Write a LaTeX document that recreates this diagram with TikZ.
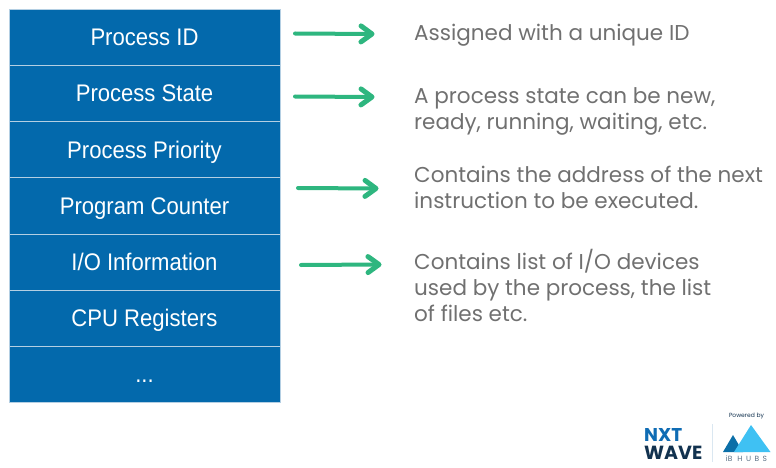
\documentclass[tikz,border=0pt]{standalone}
\usepackage{fontspec}
\usetikzlibrary{positioning,arrows.meta}
\setmainfont{Poppins}
\newfontfamily\boxfont[FakeStretch=0.92]{Liberation Sans}
\newfontfamily\logofont{Poppins}
\definecolor{pcbblue}{HTML}{0369AC}
\definecolor{pcbline}{HTML}{B4CFE3}
\definecolor{notegray}{HTML}{707070}
\definecolor{arrowgreen}{HTML}{2EB67F}
\definecolor{nxtblue}{HTML}{0F6CB4}
\definecolor{wavenavy}{HTML}{12324F}
\definecolor{hubsdark}{HTML}{0B6FA8}
\definecolor{hubslight}{HTML}{3FC1F3}
\tikzset{
  pcbbox/.style={rectangle,fill=pcbblue,draw=pcbline,line width=0.6pt,outer sep=0pt,minimum width=271pt,minimum height=56.2pt,inner sep=0pt,text height=17pt,text depth=0pt,text=white,font=\boxfont\fontsize{24}{27}\selectfont},
  note/.style={anchor=west,align=left,inner sep=0pt,text=notegray,font=\fontsize{21.5}{26}\selectfont},
  mark arrow/.style={arrowgreen,line width=4pt,line cap=round,-{Straight Barb[length=11pt,width=16pt,line width=5pt,round]}},
}
\begin{document}
\begin{tikzpicture}[x=1pt,y=-1pt,node distance=0pt]
\useasboundingbox (0,0) rectangle (776,468);
\node[pcbbox] (pid) at (144.5,37.1) {Process ID};
\node[pcbbox,below=of pid] (state) {Process State};
\node[pcbbox,below=of state] (priority) {Process Priority};
\node[pcbbox,below=of priority] (counter) {Program Counter};
\node[pcbbox,below=of counter] (io) {I/O Information};
\node[pcbbox,below=of io] (regs) {CPU Registers};
\node[pcbbox,below=of regs] (more) {...};
% notes on the right
\node[note] (n1) at (414,35) {Assigned with a unique ID};
\node[note] (n2) at (414,111) {A process state can be new,\\ready, running, waiting, etc.};
\node[note] (n3) at (414,187) {Contains the address of the next\\instruction to be executed.};
\node[note] (n4) at (414,285) {Contains list of I/O devices\\used by the process, the list\\of files etc.};
% arrows
\coordinate (a1) at (295,33.5);
\coordinate (b1) at (374.5,34);
\coordinate (a2) at (295,96.5);
\coordinate (b2) at (374.5,97);
\coordinate (a3) at (298,188);
\coordinate (b3) at (378.5,188.5);
\coordinate (a4) at (301,265);
\coordinate (b4) at (381.5,264.5);
\foreach \i in {1,2,3,4}
  \draw[mark arrow] (a\i) -- (b\i);
% logo
\node[inner sep=0pt,anchor=west,text=nxtblue,font=\logofont\bfseries\fontsize{18.5}{18}\selectfont] (nxt) at (644,435) {NXT};
\node[inner sep=0pt,anchor=west,text=wavenavy,font=\logofont\bfseries\fontsize{19}{18}\selectfont] (wave) at (644,452.5) {WAVE};
\coordinate (d1) at (712,424);
\coordinate (d2) at (712,462);
\draw[pcbline!50,line width=0.7pt] (d1) -- (d2);
\node[inner sep=0pt,text=wavenavy,font=\logofont\fontsize{6}{7}\selectfont] (powered) at (746.5,416.5) {Powered by};
\fill[hubsdark] (723,452) -- (733,435) -- (743,452) -- cycle;
\fill[hubslight] (734,452) -- (751,425) -- (770.5,452) -- cycle;
\node[inner sep=0pt,text=wavenavy!70,font=\logofont\fontsize{7.5}{8}\selectfont] (hubs) at (746.5,458.5) {iB\hspace{5pt}H\hspace{3.5pt}U\hspace{3.5pt}B\hspace{3.5pt}S};
\end{tikzpicture}
\end{document}
